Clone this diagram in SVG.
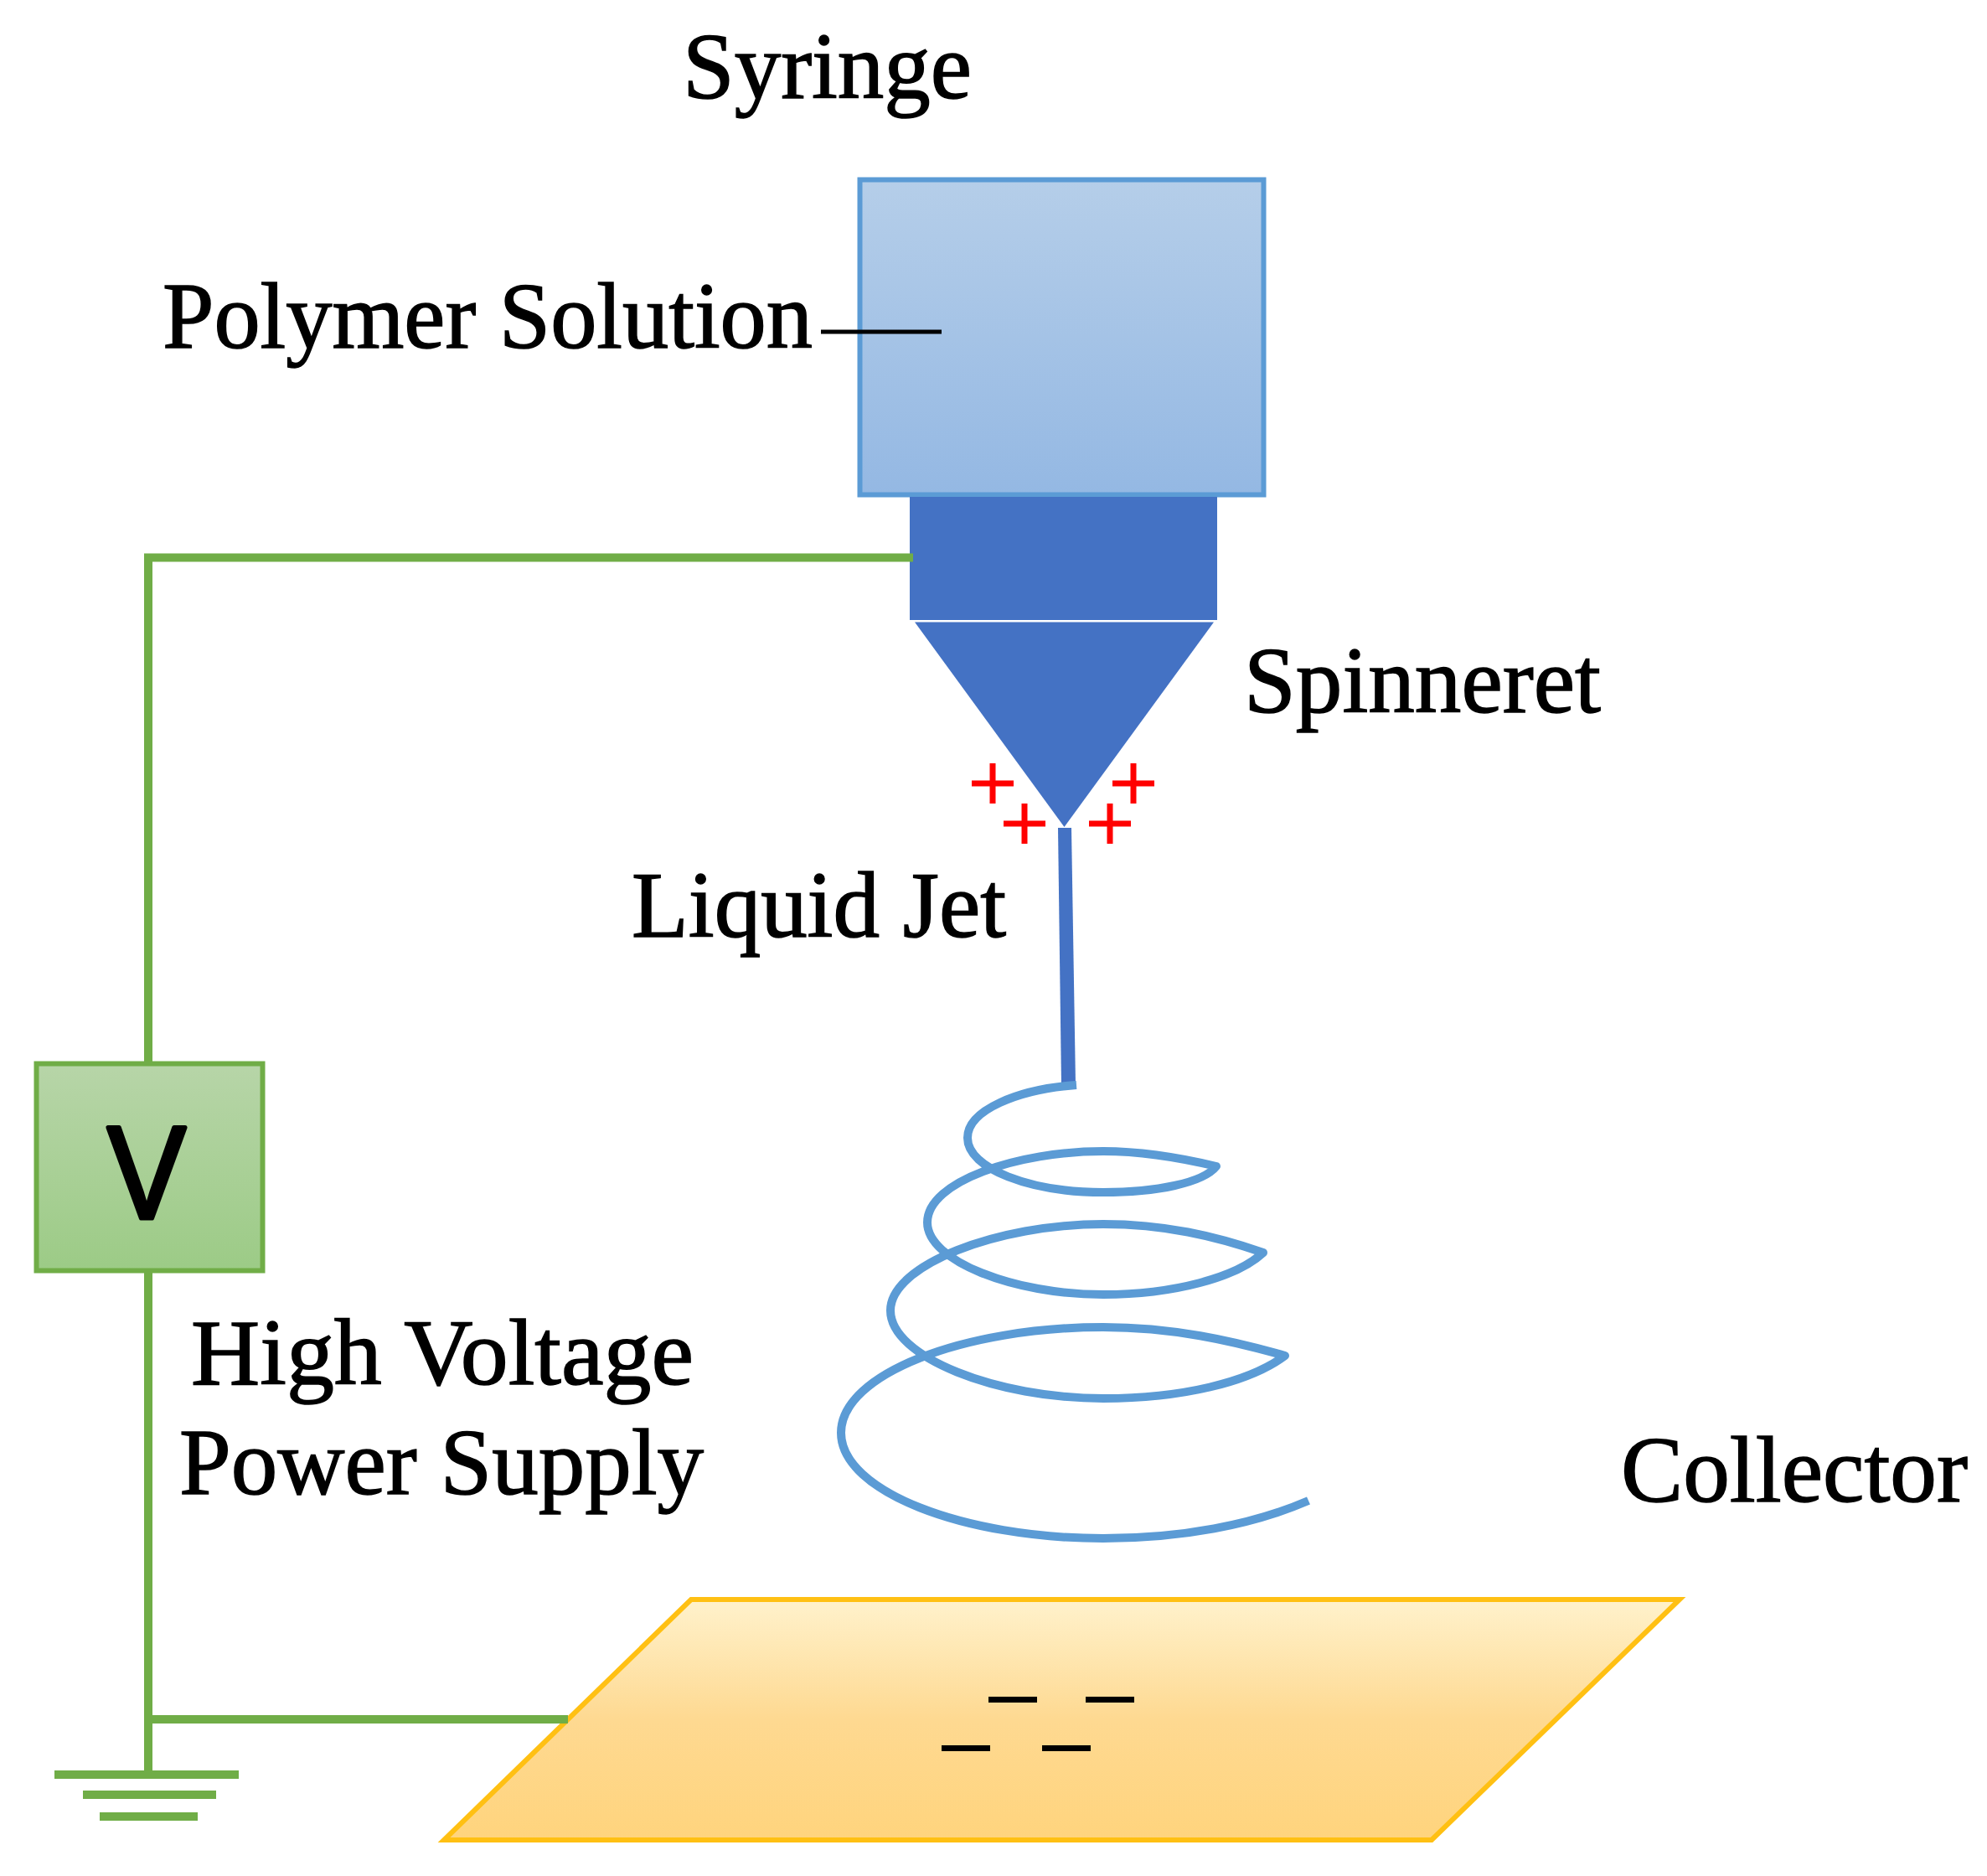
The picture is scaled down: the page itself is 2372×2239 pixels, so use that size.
<svg xmlns="http://www.w3.org/2000/svg" width="2372" height="2239" viewBox="0 0 2372 2239">
<defs>
<linearGradient id="gs" x1="0" y1="0" x2="0" y2="1"><stop offset="0" stop-color="#b5cee9"/><stop offset="1" stop-color="#94b8e3"/></linearGradient>
<linearGradient id="gv" x1="0" y1="0" x2="0" y2="1"><stop offset="0" stop-color="#b7d5a8"/><stop offset="1" stop-color="#9ccb86"/></linearGradient>
<linearGradient id="gc" x1="0" y1="0" x2="0" y2="1"><stop offset="0" stop-color="#fff2cc"/><stop offset="0.5" stop-color="#fed991"/><stop offset="1" stop-color="#ffd47d"/></linearGradient>
</defs>
<style>
.t{font-family:"Liberation Serif","Times New Roman",serif;font-size:113px;fill:#000;stroke:#000;stroke-width:1.5}
.w{fill:none;stroke:#70ad47;stroke-width:10}
.p{fill:none;stroke:#ff0000;stroke-width:7}
.m{fill:#000}
</style>
<rect width="2372" height="2239" fill="#fff"/>
<g id="syringe"><rect x="1026.5" y="214.5" width="482" height="376" fill="url(#gs)" stroke="#5b9bd5" stroke-width="6"/></g>
<g id="spinneret">
<rect x="1086" y="593" width="367" height="147" fill="#4472c4"/>
<path d="M1092 742.5H1449L1270.5 987Z" fill="#4472c4"/>
</g>
<g id="charges">
<path class="p" d="M1160 935H1210M1185 911V959M1198 983H1248M1223 959V1007M1328 935H1378M1353 911V959M1300 983H1350M1325 959V1007"/>
</g>
<g id="jet">
<path d="M1263 988H1279L1284 1295H1267Z" fill="#4472c4"/>
<path d="M1285 1295C1215 1300 1155 1325 1155 1358C1155 1395 1230 1423 1317 1423C1380 1423 1436 1412 1452 1392C1410 1382 1365 1374 1317 1374C1215 1374 1107 1410 1107 1459C1107 1505 1210 1545 1317 1545C1400 1545 1476 1525 1508 1495C1450 1475 1390 1461 1317 1461C1190 1461 1063 1510 1063 1564C1063 1620 1190 1669 1317 1669C1410 1669 1491 1650 1534 1618C1470 1600 1400 1584 1317 1584C1150 1584 1004 1640 1004 1710C1004 1780 1150 1836 1317 1836C1410 1836 1495 1820 1562 1791" fill="none" stroke="#5b9bd5" stroke-width="10" stroke-linejoin="round"/>
</g>
<g id="power-supply"><rect x="43.5" y="1269.5" width="270" height="247" fill="url(#gv)" stroke="#70ad47" stroke-width="6"/>
<text x="128" y="1454" font-family="'Liberation Sans',Arial,sans-serif" font-size="157" fill="#000" stroke="#000" stroke-width="5" stroke-linejoin="round" textLength="94" lengthAdjust="spacingAndGlyphs">V</text></g>
<g id="collector"><path d="M825 1909H2005L1709 2196H530Z" fill="url(#gc)" stroke="#ffc013" stroke-width="6"/>
<path class="m" d="M1180 2025h58v7h-58zM1296 2025h58v7h-58zM1124 2083h58v7h-58zM1244 2083h58v7h-58z"/></g>
<g id="connectors">
<path class="w" d="M1090 665.5H177V1267"/>
<path class="w" d="M177 1518V2118"/>
<path class="w" d="M177 2052H678"/>
<path d="M65 2118H285M99 2142H258M119 2168H236" class="w"/>
<path d="M980 396H1124" fill="none" stroke="#000" stroke-width="5"/>
</g>
<g id="labels">
<text class="t" x="815" y="117" textLength="345" lengthAdjust="spacingAndGlyphs">Syringe</text>
<text class="t" x="194" y="415" textLength="776" lengthAdjust="spacingAndGlyphs">Polymer Solution</text>
<text class="t" x="1485" y="850" textLength="426" lengthAdjust="spacingAndGlyphs">Spinneret</text>
<text class="t" x="754" y="1118" textLength="447" lengthAdjust="spacingAndGlyphs">Liquid Jet</text>
<text class="t" x="228" y="1652" textLength="600" lengthAdjust="spacingAndGlyphs">High Voltage</text>
<text class="t" x="214" y="1783" textLength="626" lengthAdjust="spacingAndGlyphs">Power Supply</text>
<text class="t" x="1935" y="1792" textLength="414" lengthAdjust="spacingAndGlyphs">Collector</text>
</g>
</svg>
